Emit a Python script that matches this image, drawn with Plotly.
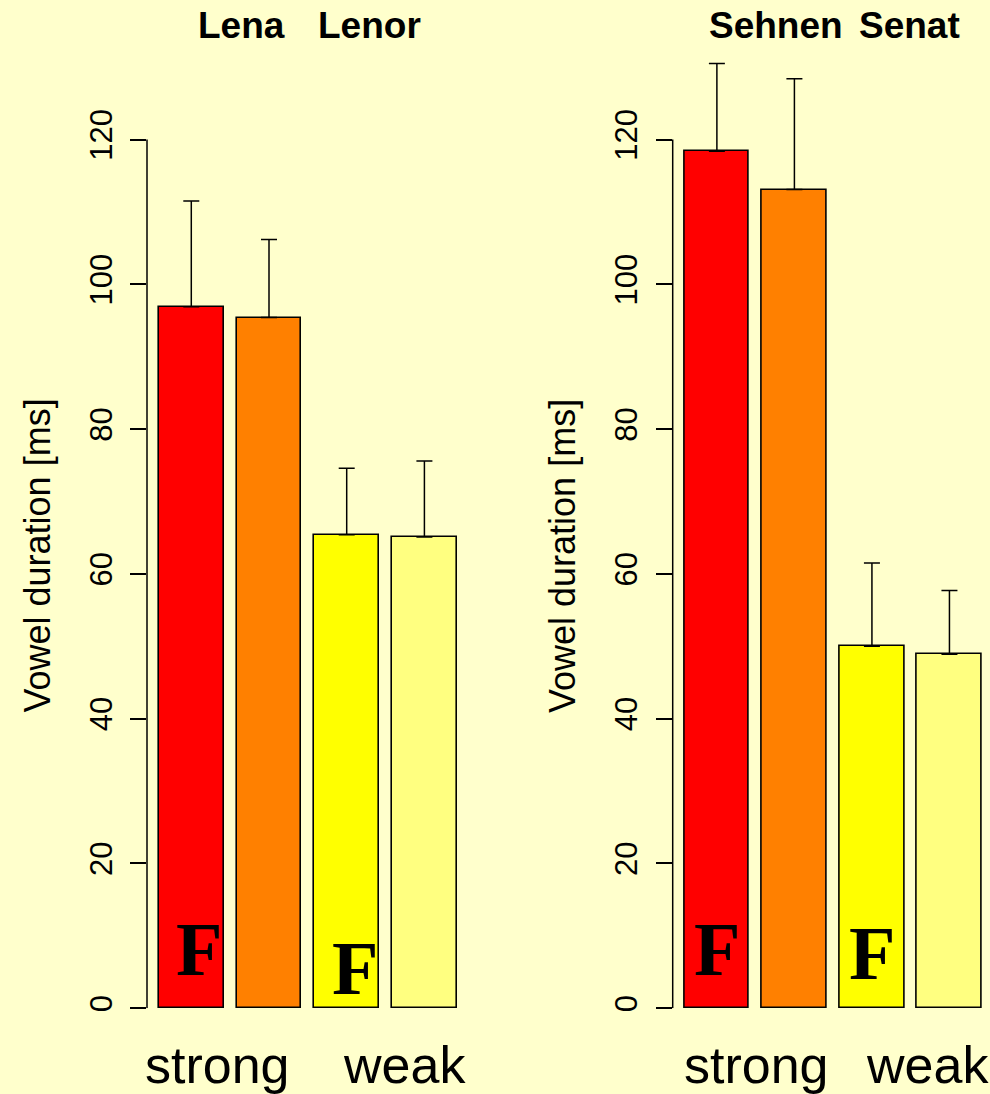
import plotly.graph_objects as go

# ---- data ----
conditions = ["strong A", "strong B", "weak A", "weak B"]
bar_colors = ["#FF0000", "#FF8000", "#FFFF00", "#FFFF80"]
left_words = ["Lena", "Lenor"]
right_words = ["Sehnen", "Senat"]
left_means = [96.9, 95.4, 65.4, 65.1]
left_upper = [111.5, 106.2, 74.6, 75.6]
right_means = [118.4, 113.1, 50.0, 48.9]
right_upper = [130.5, 128.4, 61.5, 57.7]
bar_pos = [0.7, 1.9, 3.1, 4.3]
tick_vals = [0, 20, 40, 60, 80, 100, 120]
group_labels = ["strong", "weak"]
y_title = "Vowel duration [ms]"

BG = "#FFFFCC"
W, H = 990, 1094
H_EFF = 1088.0
Y0_PX = 1006.3
PX_PER_UNIT = 7.225
YMAX = 135

def fy(px):
    return 1 - px / H_EFF

ydom = [fy(Y0_PX), fy(Y0_PX - YMAX * PX_PER_UNIT)]

fig = go.Figure()

for i, (means, upper) in enumerate([(left_means, left_upper), (right_means, right_upper)]):
    xa = "x" if i == 0 else "x2"
    ya = "y" if i == 0 else "y2"
    fig.add_trace(go.Bar(
        x=bar_pos, y=means, width=1.0,
        marker=dict(color=bar_colors, line=dict(color="black", width=1.6)),
        error_y=dict(type="data", symmetric=False,
                     array=[u - m for u, m in zip(upper, means)],
                     arrayminus=[0] * len(means),
                     color="black", thickness=1.5, width=8),
        xaxis=xa, yaxis=ya, showlegend=False, hoverinfo="skip",
    ))

left_dom = [147 / W, 468.7 / W]
right_dom = [672.7 / W, 1.0]
right_xmax = 0.016 + (W - 672.7) / 64.6

yaxis_common = dict(
    range=[0, YMAX], tickvals=tick_vals, ticks="outside", ticklen=16,
    tickwidth=1.5, tickcolor="black", tickangle=-90, showgrid=False,
    zeroline=False, showline=False, ticklabelstandoff=6,
    tickfont=dict(family="Liberation Sans, Arial, sans-serif", size=31, color="black"),
    domain=ydom,
)
fig.update_layout(
    width=W, height=H, margin=dict(l=0, r=0, t=0, b=0),
    paper_bgcolor=BG, plot_bgcolor=BG,
    xaxis=dict(domain=left_dom, range=[0.016, 4.984], visible=False, anchor="y"),
    xaxis2=dict(domain=right_dom, range=[0.016, right_xmax], visible=False, anchor="y2"),
    yaxis=dict(anchor="x", **yaxis_common),
    yaxis2=dict(anchor="x2", **yaxis_common),
    bargap=0,
)

# axis lines (0..120 only, R style)
for xr, yr in [("x domain", "y"), ("x2 domain", "y2")]:
    fig.add_shape(type="line", xref=xr, yref=yr, x0=0, x1=0, y0=0, y1=120,
                  line=dict(color="black", width=1.5))

annots = []
title_font = dict(family="Liberation Sans, Arial, sans-serif",
                  size=37, color="black", weight="bold")
label_font = dict(family="Liberation Sans, Arial, sans-serif", size=52, color="black")
F_font = dict(family="Liberation Serif, Times New Roman, serif", size=76, color="black", weight="bold")
ylab_font = dict(family="Liberation Sans, Arial, sans-serif", size=36, color="black")

panels = [
    ("x", "y", left_words, [1.474, 3.455], [1.11, 4.0], [0.816, 3.23], [8.2, 5.6], 37.5),
    ("x2", "y2", right_words, [1.616, 3.677], [1.306, 3.96], [0.70, 3.1], [8.2, 7.6], 562),
]
for xr, yr, words, wx, gx, fx, fyv, ylx in panels:
    for w, x in zip(words, wx):
        annots.append(dict(xref=xr, yref="paper", x=x, y=fy(25), text=w, showarrow=False,
                           font=title_font, xanchor="center", yanchor="middle"))
    for g, x in zip(group_labels, gx):
        annots.append(dict(xref=xr, yref="paper", x=x, y=fy(1063), text=g, showarrow=False,
                           font=label_font, xanchor="center", yanchor="middle"))
    for x, yv in zip(fx, fyv):
        annots.append(dict(xref=xr, yref=yr, x=x, y=yv, text="F", showarrow=False,
                           font=F_font, xanchor="center", yanchor="middle"))
    annots.append(dict(xref="paper", yref="paper", x=ylx / W, y=fy(555), text=y_title,
                       showarrow=False, textangle=-90, font=ylab_font,
                       xanchor="center", yanchor="middle"))

fig.update_layout(annotations=annots)
fig.write_html("out.html", config={"displayModeBar": False},
               post_script="document.body.style.margin='0px';")
